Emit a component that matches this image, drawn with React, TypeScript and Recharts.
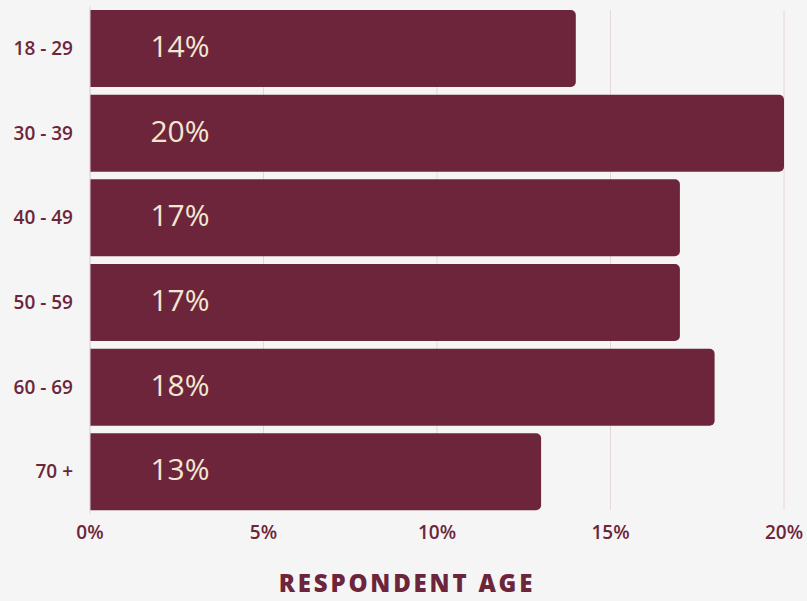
import { Bar, BarChart, CartesianGrid, LabelList, XAxis, YAxis } from "recharts"

const ageGroups = ["18 - 29", "30 - 39", "40 - 49", "50 - 59", "60 - 69", "70 +"]
const shares = [14, 20, 17, 17, 18, 13]
const xTicks = [0, 5, 10, 15, 20]

const data = ageGroups.map((age, i) => ({ age, share: shares[i] }))

const wine = "#6D253B"
const cream = "#F3E7D2"
const font = "'Open Sans', sans-serif"

function InsideLabel(props: any) {
  const { x, y, height, value } = props
  return (
    <text
      x={x + 90}
      y={y + height / 2 - 3}
      textAnchor="middle"
      dominantBaseline="central"
      fill={cream}
      fontSize={30}
      fontFamily={font}
    >
      {`${value}%`}
    </text>
  )
}

export default function App() {
  return (
    <div
      style={{
        position: "fixed",
        left: 0,
        top: 0,
        width: 807,
        height: 601,
        background: "#F5F5F5",
        fontFamily: font,
      }}
    >
      <BarChart
        width={807}
        height={601}
        data={data}
        layout="vertical"
        margin={{ top: 6, right: 23, left: 0, bottom: 57 }}
      >
        <CartesianGrid horizontal={false} stroke="#E6D6DB" y={10} height={500} />
        <XAxis
          type="number"
          domain={[0, 20]}
          ticks={xTicks}
          tickFormatter={(v) => `${v}%`}
          axisLine={false}
          tickLine={false}
          tickSize={6}
          tickMargin={6}
          tick={{ fill: wine, fontSize: 19, fontFamily: font, fontWeight: 600 }}
        />
        <YAxis
          type="category"
          dataKey="age"
          width={90}
          axisLine={{ stroke: "#E6D6DB" }}
          tickLine={false}
          tickSize={0}
          tickMargin={17}
          tick={{ fill: wine, fontSize: 19, fontFamily: font, fontWeight: 600 }}
        />
        <Bar dataKey="share" fill={wine} barSize={77} radius={[0, 5, 5, 0]} isAnimationActive={false}>
          <LabelList dataKey="share" content={InsideLabel} />
        </Bar>
      </BarChart>
      <div
        style={{
          position: "absolute",
          left: 257,
          width: 300,
          top: 571,
          lineHeight: "24px",
          textAlign: "center",
          color: wine,
          fontSize: 24,
          fontWeight: 800,
          letterSpacing: 2.8,
          whiteSpace: "nowrap",
        }}
      >
        RESPONDENT AGE
      </div>
    </div>
  )
}
